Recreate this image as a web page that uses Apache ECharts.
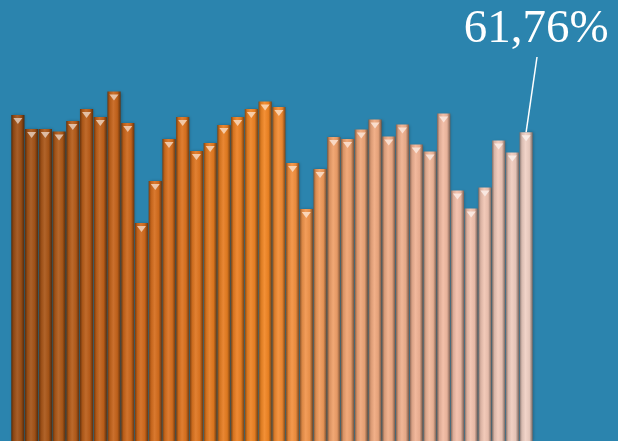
<!DOCTYPE html>
<html>
<head>
<meta charset="utf-8">
<script src="https://cdn.jsdelivr.net/npm/echarts@6/dist/echarts.min.js"></script>
<style>
  html, body { margin: 0; padding: 0; background: #2b84ae; }
  #chart { width: 618px; height: 441px; }
</style>
</head>
<body>
<div id="chart"></div>
<script>
// values (percent)
const categories = [];
for (let i = 1; i <= 38; i++) categories.push(String(i));
const values = [
  65.2, 62.4, 62.4, 61.9, 64.0, 66.4, 64.8, 69.9, 63.6, 43.6,
  52.0, 60.4, 64.8, 58.0, 59.6, 63.2, 64.8, 66.4, 67.9, 66.8,
  55.6, 46.4, 54.4, 60.8, 60.4, 62.3, 64.3, 60.9, 63.3, 59.3,
  57.9, 65.5, 50.1, 46.5, 50.7, 60.1, 57.7, 61.76
];
const lastLabel = "61,76%";

// colour ramp along the bars: [index, colour]
const ramp = [
  [0, [158, 80, 22]],
  [9, [210, 106, 28]],
  [18, [242, 134, 36]],
  [20, [243, 144, 62]],
  [23, [240, 160, 105]],
  [27, [240, 172, 134]],
  [32, [242, 190, 168]],
  [37, [240, 208, 196]]
];

function rampColor(i) {
  for (let k = 0; k < ramp.length - 1; k++) {
    const a = ramp[k], b = ramp[k + 1];
    if (i >= a[0] && i <= b[0]) {
      const t = (i - a[0]) / (b[0] - a[0]);
      return a[1].map((c, j) => Math.round(c + (b[1][j] - c) * t));
    }
  }
  return ramp[ramp.length - 1][1];
}
function rgb(c, f) {
  const m = c.map(v => Math.max(0, Math.min(255, Math.round(f >= 1 ? v + (255 - v) * (f - 1) : v * f))));
  return "rgb(" + m.join(",") + ")";
}

const last = values.length - 1;

const barData = values.map((v, i) => {
  const c = rampColor(i);
  const item = {
    value: v,
    itemStyle: {
      color: new echarts.graphic.LinearGradient(0, 0, 1, 0, [
        { offset: 0, color: rgb(c, 0.55) },
        { offset: 0.18, color: rgb(c, 0.9) },
        { offset: 0.45, color: rgb(c, 1.08) },
        { offset: 0.75, color: rgb(c, 0.95) },
        { offset: 1, color: rgb(c, 0.5) }
      ])
    }
  };
  if (i === last) {
    item.label = {
      show: true,
      position: "top",
      formatter: lastLabel,
      color: "#fff",
      fontFamily: "Liberation Serif",
      fontSize: 47
    };
  }
  return item;
});

const capData = values.map((v, i) => {
  const c = rampColor(i);
  return { value: v, itemStyle: { color: rgb(c, 1.6) } };
});

const myChart = echarts.init(document.getElementById("chart"));
const option = {
  backgroundColor: "#2b84ae",
  animation: false,
  grid: { left: 11, right: 85, top: 41, bottom: 0 },
  xAxis: {
    type: "category",
    data: categories,
    show: false
  },
  yAxis: {
    type: "value",
    min: 0,
    max: 80,
    show: false
  },
  series: [
    {
      type: "bar",
      data: barData,
      barCategoryGap: "4%",
      itemStyle: {
        shadowColor: "rgba(0,0,0,0.25)",
        shadowBlur: 3,
        shadowOffsetX: 1
      },
      labelLayout: { dx: 10, dy: -74 },
      markLine: {
        silent: true,
        symbol: ["none", "none"],
        label: { show: false },
        lineStyle: { color: "#fff", width: 1.5, type: "solid" },
        data: [[
          { coord: [last, values[last]] },
          { x: 537, y: 57 }
        ]]
      },
      z: 2
    },
    {
      type: "pictorialBar",
      data: capData,
      symbol: "path://M0,0 L10,0 L5,6 Z",
      symbolSize: [9, 6],
      symbolPosition: "end",
      symbolOffset: [0, "50%"],
      z: 3,
      silent: true
    }
  ]
};
myChart.setOption(option, true);
</script>
</body>
</html>
